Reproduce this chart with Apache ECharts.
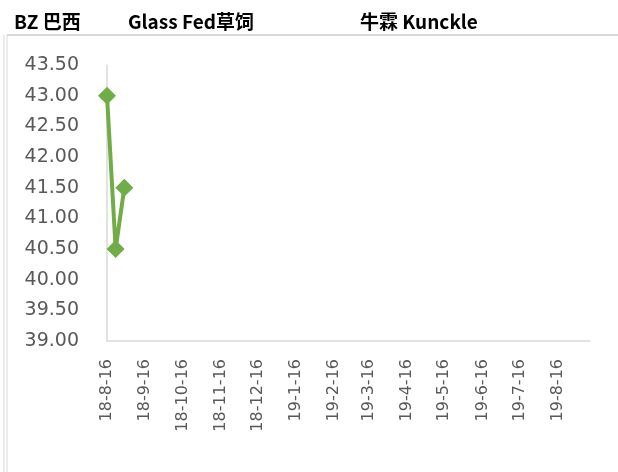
<!DOCTYPE html>
<html>
<head>
<meta charset="utf-8">
<script src="https://cdn.jsdelivr.net/npm/echarts@6/dist/echarts.min.js"></script>
<style>
  html, body { margin: 0; padding: 0; background: #fff; }
  #main { width: 618px; height: 472px; }
</style>
</head>
<body>
<div id="main"></div>
<script>
// 数据
var titles = ['BZ 巴西', 'Glass Fed草饲', '牛霖 Kunckle'];
var dates = ['2018-08-16', '2018-08-23', '2018-08-30'];
var prices = [43.00, 40.50, 41.50];
var tickDates = ['2018-08-16', '2018-09-16', '2018-10-16', '2018-11-16', '2018-12-16',
  '2019-01-16', '2019-02-16', '2019-03-16', '2019-04-16', '2019-05-16',
  '2019-06-16', '2019-07-16', '2019-08-16'];
var xMin = '2018-08-16';
var xMax = '2019-09-11';

function ts(s) {
  var p = s.split('-');
  return new Date(+p[0], +p[1] - 1, +p[2]).getTime();
}

var chart = echarts.init(document.getElementById('main'));

var titleLeft = [14, 128, 360];
var option = {
  animation: false,
  title: titles.map(function (t, i) {
    return {
      text: t,
      left: titleLeft[i],
      top: 12,
      padding: 0,
      textStyle: { fontSize: 19, fontWeight: 'bold', color: '#000', fontFamily: 'Noto Sans CJK SC' }
    };
  }),
  graphic: [
    // 单元格边框
    { type: 'line', shape: { x1: 4, y1: 35, x2: 4, y2: 472 }, style: { stroke: '#d9d9d9', lineWidth: 1 } },
    { type: 'line', shape: { x1: 7, y1: 35, x2: 7, y2: 472 }, style: { stroke: '#d9d9d9', lineWidth: 1 } },
    { type: 'line', shape: { x1: 7, y1: 35, x2: 618, y2: 35 }, style: { stroke: '#d9d9d9', lineWidth: 2 } }
  ],
  grid: { left: 107, top: 65, right: 28, bottom: 131 },
  xAxis: {
    type: 'value',
    min: ts(xMin),
    max: ts(xMax),
    axisLine: { lineStyle: { color: '#d9d9d9', width: 1.5 } },
    axisTick: { show: false },
    splitLine: { show: false },
    axisLabel: {
      customValues: tickDates.map(ts),
      rotate: 90,
      margin: 18,
      fontSize: 16,
      color: '#595959',
      fontFamily: 'DejaVu Sans',
      formatter: function (v) {
        var d = new Date(v);
        return String(d.getFullYear()).slice(2) + '-' + (d.getMonth() + 1) + '-' + d.getDate();
      }
    }
  },
  yAxis: {
    type: 'value',
    min: 39,
    max: 43.5,
    interval: 0.5,
    axisLine: { show: true, lineStyle: { color: '#d9d9d9', width: 1.5 } },
    axisTick: { show: false },
    splitLine: { show: false },
    axisLabel: {
      margin: 28,
      fontSize: 19,
      color: '#595959',
      fontFamily: 'DejaVu Sans',
      formatter: function (v) { return v.toFixed(2); }
    }
  },
  series: [{
    type: 'line',
    data: dates.map(function (d, i) { return [ts(d), prices[i]]; }),
    symbol: 'diamond',
    symbolSize: 18,
    lineStyle: { color: '#70ad47', width: 4 },
    itemStyle: { color: '#70ad47' }
  }]
};
chart.setOption(option);
</script>
</body>
</html>
